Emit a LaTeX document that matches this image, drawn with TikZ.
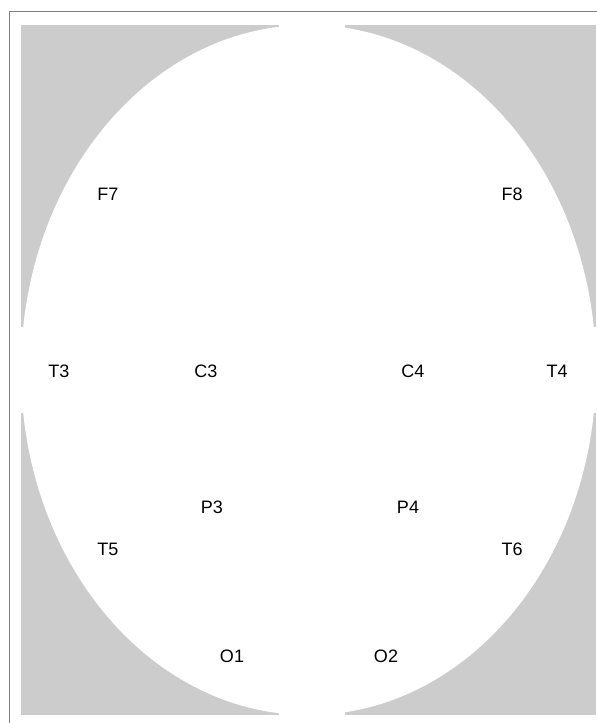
\documentclass[tikz,border=0pt]{standalone}
\usepackage{fontspec}
\setmainfont{Liberation Sans}
\definecolor{scalpgray}{HTML}{CCCCCC}
\definecolor{framegray}{HTML}{808080}

\begin{document}
\begin{tikzpicture}[x=1pt,y=-1pt,
    electrode/.style={font=\fontsize{18}{21}\selectfont, inner sep=0pt}]
      \useasboundingbox (0,0) rectangle (597,723);

      % Frame
      \draw[framegray, line width=1pt] (9.5,11.5) rectangle (597.5,730);

      % Scalp background and head outline
      \fill[scalpgray] (21,25) rectangle (596,715);
      \fill[white] (308.5,370) ellipse (287.5 and 345);

      % Gaps between the four corner pieces
      \fill[white] (279,20) rectangle (345,720);
      \fill[white] (15,327) rectangle (596.5,413);

      % Frontal
      \node[electrode] (F7) at (108,194) {F7};
      \node[electrode] (F8) at (512,194) {F8};

      % Temporal and central
      \node[electrode] (T3) at (59,371) {T3};
      \node[electrode] (C3) at (206,371) {C3};
      \node[electrode] (C4) at (413,371) {C4};
      \node[electrode] (T4) at (557,371) {T4};

      % Parietal
      \node[electrode] (P3) at (212,507) {P3};
      \node[electrode] (P4) at (408,507) {P4};
      \node[electrode] (T5) at (108,549) {T5};
      \node[electrode] (T6) at (512,549) {T6};

      % Occipital
      \node[electrode] (O1) at (232,656) {O1};
      \node[electrode] (O2) at (386,656) {O2};
    \end{tikzpicture}
\end{document}
